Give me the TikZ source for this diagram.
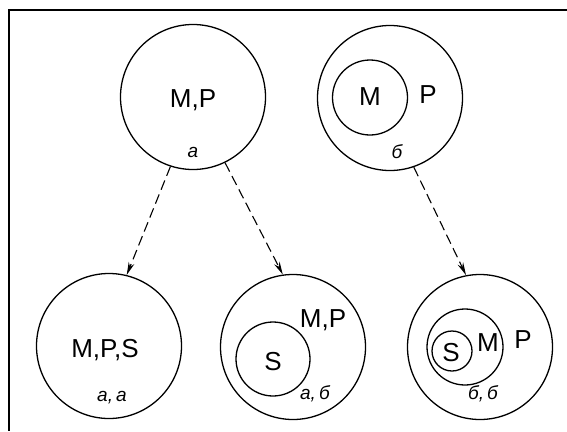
\documentclass[tikz,border=0pt]{standalone}
\usepackage{fontspec}
\setmainfont{Liberation Sans}
\usetikzlibrary{arrows.meta}
\begin{document}
\begin{tikzpicture}[x=1pt,y=-1pt,
    set/.style={draw,circle,line width=1.3pt,inner sep=0pt},
    bigset/.style={set,minimum size=145pt},
    lbl/.style={font=\fontsize{26}{28}\selectfont},
    sub/.style={font=\fontsize{19}{20}\selectfont\itshape},
    link/.style={line width=1.1pt,dash pattern=on 10pt off 5pt,
      -{Stealth[length=13pt,width=6pt]}}]
  \useasboundingbox (0,0) rectangle (567,431);
  \draw[line width=2.2pt] (567,10) -- (9,10) -- (9,431);
  % sets
  \node[bigset] (a) at (193,97) {};
  \node[bigset] (b) at (390,98) {};
  \node[set,minimum size=75pt] (bm) at (370,97.5) {};
  \node[bigset] (aa) at (109,346) {};
  \node[bigset] (ab) at (293,347) {};
  \node[set,minimum size=74pt] (abs) at (273,359) {};
  \node[bigset] (bb) at (480,347) {};
  \node[set,minimum size=76pt] (bbm) at (465,347) {};
  \node[set,minimum size=40pt] (bbs) at (452,351) {};
  % labels
  \draw
    (193,100) node[lbl] (a1){M,P}
    (193,152) node[sub] (a2){а}
    (370,97) node[lbl] (b1){M}
    (428,95) node[lbl] (b2){P}
    (397,152) node[sub] (b3){б}
    (105,350) node[lbl] (aa1){M,P,S}
    (112,398) node[sub] (aa2){а,\,а}
    (273,362) node[lbl] (ab1){S}
    (323,320) node[lbl] (ab2){M,P}
    (315,394) node[sub] (ab3){а,\,б}
    (451,353) node[lbl] (bb1){S}
    (488,343) node[lbl] (bb2){M}
    (523,340) node[lbl] (bb3){P}
    (483,394) node[sub] (bb4){б,\,б};
  \begin{scope}[link]
    \draw (a.252) to (aa.76);
    \draw (a.296) to (ab.98);
    \draw (b.289) to (bb.101);
  \end{scope}
\end{tikzpicture}
\end{document}
